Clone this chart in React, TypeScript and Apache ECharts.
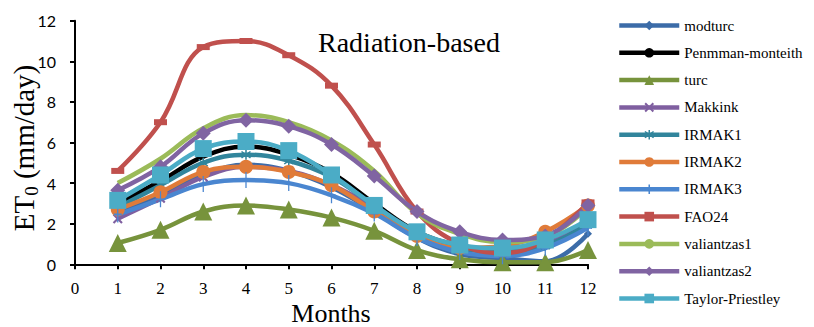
import React, { useEffect, useRef } from "react";
import * as echarts from "echarts";

const months = [1, 2, 3, 4, 5, 6, 7, 8, 9, 10, 11, 12];
const seriesNames = ["modturc", "Penmman-monteith", "turc", "Makkink", "IRMAK1", "IRMAK2", "IRMAK3", "FAO24", "valiantzas1", "valiantzas2", "Taylor-Priestley"];
const modturc = [2.6, 3.4, 4.4, 4.9, 4.6, 3.8, 2.6, 1.3, 0.5, 0.3, 0.15, 1.5];
const penman = [3.0, 4.1, 5.3, 5.8, 5.4, 4.5, 3.0, 1.6, 0.9, 0.6, 1.0, 2.1];
const turc = [1.05, 1.7, 2.6, 2.9, 2.7, 2.3, 1.65, 0.7, 0.25, 0.1, 0.1, 0.7];
const makkink = [2.25, 3.25, 4.3, 4.8, 4.6, 3.9, 2.8, 1.5, 0.8, 0.6, 1.0, 2.0];
const irmak1 = [2.8, 3.9, 5.0, 5.4, 5.1, 4.3, 2.9, 1.5, 0.8, 0.6, 0.9, 2.0];
const irmak2 = [2.7, 3.55, 4.55, 4.8, 4.55, 3.9, 2.6, 1.4, 0.8, 0.9, 1.6, 2.9];
const irmak3 = [2.45, 3.2, 3.95, 4.15, 4.0, 3.4, 2.5, 1.3, 0.6, 0.4, 0.8, 1.8];
const fao24 = [4.6, 7.0, 10.7, 11.0, 10.3, 8.8, 5.9, 2.6, 1.0, 0.55, 1.2, 3.05];
const valiantzas1 = [4.0, 5.2, 6.7, 7.35, 7.0, 6.1, 4.6, 2.5, 1.5, 1.1, 1.35, 2.8];
const valiantzas2 = [3.65, 4.8, 6.45, 7.1, 6.8, 5.9, 4.35, 2.6, 1.6, 1.2, 1.4, 2.9];
const taylor = [3.15, 4.4, 5.7, 6.05, 5.6, 4.4, 2.9, 1.6, 0.95, 0.8, 1.2, 2.2];

const xTicks = [0, 1, 2, 3, 4, 5, 6, 7, 8, 9, 10, 11, 12];
const yTicks = [0, 2, 4, 6, 8, 10, 12];

const FONT = '"Liberation Serif", "Times New Roman", serif';
const SANS = 'Lato, "Open Sans", sans-serif';

const X_SYM = "path://M0,1.5 L1.5,0 L5,3.5 L8.5,0 L10,1.5 L6.5,5 L10,8.5 L8.5,10 L5,6.5 L1.5,10 L0,8.5 L3.5,5 Z";
const AST_SYM = "path://M4.3,0 H5.7 V3.6 L8.6,1.2 L9.5,2.3 L6.3,5 L9.5,7.7 L8.6,8.8 L5.7,6.4 V10 H4.3 V6.4 L1.4,8.8 L0.5,7.7 L3.7,5 L0.5,2.3 L1.4,1.2 L4.3,3.6 Z";
const PLUS_SYM = "path://M4.2,0 H5.8 V4.4 H10 V5.6 H5.8 V10 H4.2 V5.6 H0 V4.4 H4.2 Z";

export default function App() {
  const ref = useRef<HTMLDivElement>(null);
  useEffect(() => {
    if (!ref.current) return;
    const chart = echarts.init(ref.current, undefined, { renderer: "svg" });
    const dataSets = [modturc, penman, turc, makkink, irmak1, irmak2, irmak3, fao24, valiantzas1, valiantzas2, taylor];
    const colors = ["#3C6CA8", "#000000", "#77933C", "#7F5FA0", "#31859C", "#E07B39", "#4A86D0", "#C0504D", "#9BBB59", "#8064A2", "#4BACC6"];
    const symbols: any[] = ["diamond", "none", "triangle", X_SYM, AST_SYM, "circle", PLUS_SYM, "rect", "none", "diamond", "rect"];
    const sizes: any[] = [8, 0, 18, 10, 10, 14, [8, 16], [13, 6], 0, 15, 17];
    const series = dataSets.map((arr, i) => ({
      name: seriesNames[i],
      type: "line",
      smooth: 0.4,
      data: months.map((m, j) => [m, arr[j]]),
      symbol: symbols[i],
      symbolSize: sizes[i],
      showSymbol: symbols[i] !== "none",
      lineStyle: { color: colors[i], width: 4.5 },
      itemStyle: { color: colors[i] },
      emphasis: { disabled: true },
    }));
    chart.setOption({
      animation: false,
      title: {
        text: "Radiation-based",
        left: 318,
        top: 28,
        padding: 0,
        textStyle: { fontFamily: FONT, fontSize: 28, fontWeight: "normal", color: "#000" },
      },
      legend: {
        orient: "vertical",
        left: 617,
        top: 18,
        padding: 0,
        itemWidth: 60,
        itemHeight: 12,
        itemGap: 12.3,
        data: seriesNames,
        itemStyle: { borderWidth: 0 },
        lineStyle: { width: 4.5 },
        textStyle: { fontFamily: FONT, fontSize: 15, color: "#000" },
      },
      graphic: [
        {
          type: "text",
          x: 24,
          y: 148,
          rotation: Math.PI / 2,
          style: {
            text: "{n|ET}{s|0}{n| (mm/day)}",
            align: "center",
            verticalAlign: "middle",
            fill: "#000",
            rich: {
              n: { fontFamily: FONT, fontSize: 29, fill: "#000" },
              s: { fontFamily: FONT, fontSize: 19, fill: "#000", padding: [14, 0, 0, 0] },
            },
          },
        },
        {
          type: "text",
          x: 331,
          y: 313,
          style: {
            text: "Months",
            align: "center",
            verticalAlign: "middle",
            fill: "#000",
            fontFamily: FONT,
            fontSize: 26,
          },
        },
      ],
      grid: { left: 75, right: 226, top: 20.7, bottom: 62.7, containLabel: false, outerBoundsMode: "none" },
      xAxis: {
        type: "value",
        min: 0,
        max: 12,
        interval: 1,
        axisLine: { show: true, onZero: false, lineStyle: { color: "#000", width: 2 } },
        axisTick: { show: true, inside: false, length: 5, lineStyle: { color: "#000", width: 2 } },
        axisLabel: { fontFamily: FONT, fontSize: 17, color: "#000", margin: 16, formatter: (v: number) => (xTicks.includes(v) ? String(v) : "") },
        splitLine: { show: false },
      },
      yAxis: {
        type: "value",
        min: 0,
        max: 12,
        interval: 2,
        axisLine: { show: true, lineStyle: { color: "#000", width: 2 } },
        axisTick: { show: true, inside: false, length: 5, lineStyle: { color: "#000", width: 2 } },
        axisLabel: { fontFamily: SANS, fontSize: 16, color: "#000", margin: 19, formatter: (v: number) => (yTicks.includes(v) ? String(v) : "") },
        splitLine: { show: false },
      },
      series,
    });
    return () => chart.dispose();
  }, []);
  return <div ref={ref} style={{ width: 814, height: 327, position: "absolute", left: 0, top: 0, background: "#fff" }} />;
}
